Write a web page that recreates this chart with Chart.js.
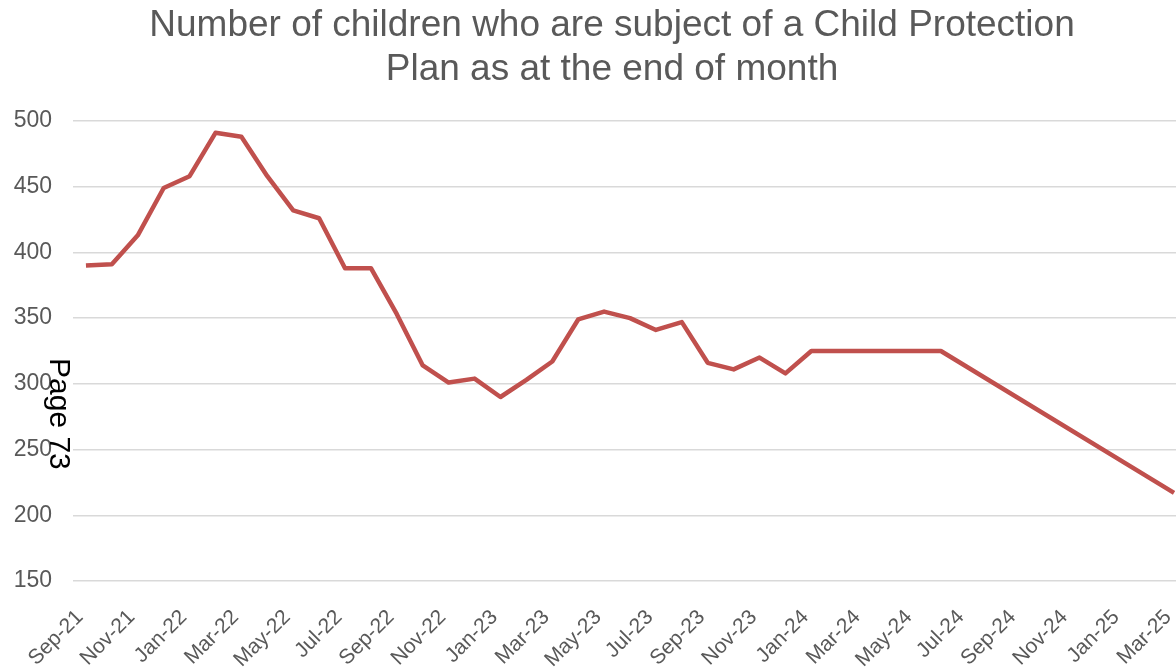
<!DOCTYPE html>
<html>
<head>
<meta charset="utf-8">
<script src="https://cdn.jsdelivr.net/npm/chart.js@4"></script>
<style>
  html, body { margin: 0; padding: 0; background: #fff; overflow: hidden; }
  #wrap { position: relative; width: 1187px; height: 670px; }
</style>
</head>
<body>
<div id="wrap"><canvas id="c"></canvas></div>
<script>
// ---- Data ----
const months = [
  'Sep-21','Oct-21','Nov-21','Dec-21','Jan-22','Feb-22','Mar-22','Apr-22','May-22','Jun-22',
  'Jul-22','Aug-22','Sep-22','Oct-22','Nov-22','Dec-22','Jan-23','Feb-23','Mar-23','Apr-23',
  'May-23','Jun-23','Jul-23','Aug-23','Sep-23','Oct-23','Nov-23','Dec-23','Jan-24','Feb-24',
  'Mar-24','Apr-24','May-24','Jun-24','Jul-24','Aug-24','Sep-24','Oct-24','Nov-24','Dec-24',
  'Jan-25','Feb-25','Mar-25'
];
const childrenOnPlan = [
  390, 391, 413, 449, 458, 491, 488, 458, 432, 426,
  388, 388, 353, 314, 301, 304, 290, 303, 317, 349,
  355, 350, 341, 347, 316, 311, 320, 308, 325, 325,
  325, 325, 325, 325, null, null, null, null, null, null,
  null, null, 217
];
const yTicks = [150, 200, 250, 300, 350, 400, 450, 500];
const titleLines = ['Number of children who are subject of a Child Protection', 'Plan as at the end of month'];
const pageMark = 'Page 73';

const overlayPlugin = {
  id: 'overlay',
  afterDraw(chart) {
    const ctx = chart.ctx;
    ctx.save();
    ctx.fillStyle = '#595959';
    ctx.font = '37px "Liberation Sans", Arial, sans-serif';
    ctx.textAlign = 'center';
    ctx.textBaseline = 'alphabetic';
    ctx.fillText(titleLines[0], 612, 36);
    ctx.fillText(titleLines[1], 612, 80);
    ctx.restore();

    ctx.save();
    ctx.fillStyle = '#000';
    ctx.font = '30px "Liberation Sans", Arial, sans-serif';
    ctx.translate(50, 358);
    ctx.rotate(Math.PI / 2);
    ctx.textAlign = 'left';
    ctx.textBaseline = 'alphabetic';
    ctx.fillText(pageMark, 0, 0);
    ctx.restore();
  }
};

new Chart(document.getElementById('c'), {
  type: 'line',
  data: {
    labels: months,
    datasets: [{
      data: childrenOnPlan,
      borderColor: '#C0504D',
      backgroundColor: '#C0504D',
      borderWidth: 4.5,
      pointRadius: 0,
      tension: 0,
      spanGaps: true,
      borderJoinStyle: 'round',
      borderCapStyle: 'butt'
    }]
  },
  options: {
    responsive: true,
    maintainAspectRatio: false,
    animation: false,
    layout: { padding: { top: 121, left: 0, right: 0, bottom: 0 } },
    plugins: {
      legend: { display: false },
      tooltip: { enabled: false },
      title: { display: false }
    },
    scales: {
      x: {
        offset: true,
        grid: { display: false, drawTicks: false },
        border: { display: false },
        afterFit(s) { s.height = 89; s.paddingLeft = 0; s.paddingRight = 0; },
        ticks: {
          autoSkip: false,
          maxRotation: 45,
          minRotation: 45,
          padding: 24,
          labelOffset: -6,
          color: '#595959',
          font: { family: '"Liberation Sans", Arial, sans-serif', size: 21 },
          callback(v, i) { return i % 2 === 0 ? months[i] : ''; }
        }
      },
      y: {
        min: yTicks[0],
        max: yTicks[yTicks.length - 1],
        afterFit(s) { s.width = 73; },
        afterBuildTicks(s) { s.ticks = yTicks.map(v => ({ value: v })); },
        grid: { color: '#D9D9D9', lineWidth: 1.5, drawTicks: false },
        border: { display: false },
        ticks: {
          padding: 21,
          color: '#595959',
          font: { family: '"Liberation Sans", Arial, sans-serif', size: 23 }
        }
      }
    }
  },
  plugins: [overlayPlugin]
});
</script>
</body>
</html>
